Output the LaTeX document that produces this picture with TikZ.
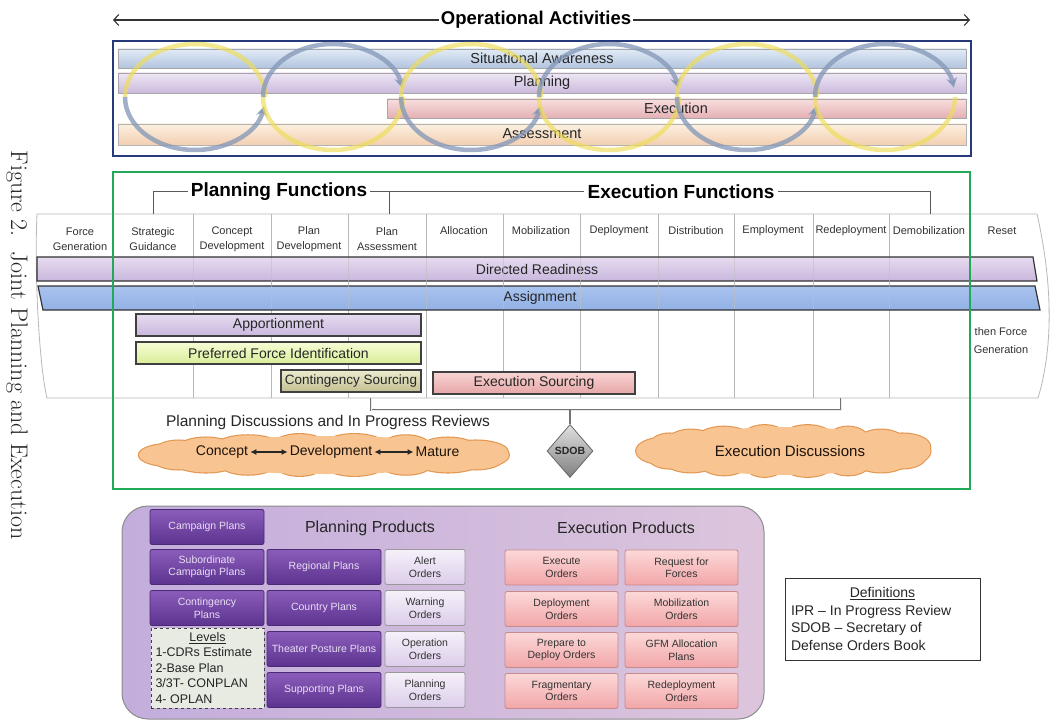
\documentclass[tikz,border=0pt]{standalone}
\usepackage{fontspec}
\setsansfont{Liberation Sans}
\renewcommand{\familydefault}{\sfdefault}
\usetikzlibrary{arrows.meta,shapes.geometric,calc}
\definecolor{navyc}{HTML}{26397A}
\definecolor{greenc}{HTML}{21A95A}
\definecolor{ringyel}{HTML}{EEDD55}
\definecolor{ringgray}{HTML}{8296B6}
\definecolor{saT}{HTML}{E2EBF7}\definecolor{saB}{HTML}{B2C4DE}
\definecolor{plT}{HTML}{EEE6F4}\definecolor{plB}{HTML}{CBBBDD}
\definecolor{exT}{HTML}{F8DEDE}\definecolor{exB}{HTML}{E4B0B4}
\definecolor{asT}{HTML}{FCF0E0}\definecolor{asB}{HTML}{F2CFB2}
\definecolor{drT}{HTML}{E6DCF0}\definecolor{drB}{HTML}{C9B7DD}
\definecolor{agT}{HTML}{A9C3EE}\definecolor{agM}{HTML}{D6E5FA}\definecolor{agB}{HTML}{93B1E6}
\definecolor{pfT}{HTML}{F6FCD6}\definecolor{pfB}{HTML}{D8EE98}
\definecolor{csT}{HTML}{ECECCF}\definecolor{csB}{HTML}{C3BF92}
\definecolor{esT}{HTML}{F9D4D4}\definecolor{esB}{HTML}{E6A6A6}
\definecolor{cloudF}{HTML}{F7C492}\definecolor{cloudD}{HTML}{E2964F}
\definecolor{panL}{HTML}{C3ADDC}\definecolor{panR}{HTML}{DCC5DC}
\definecolor{ppT}{HTML}{8B5DBA}\definecolor{ppB}{HTML}{5C3390}\definecolor{ppD}{HTML}{4A2A72}
\definecolor{ppText}{HTML}{E8DEF4}
\definecolor{ordT}{HTML}{F6F0FA}\definecolor{ordB}{HTML}{DCCDEA}
\definecolor{pkT}{HTML}{FCD8D8}\definecolor{pkB}{HTML}{F2A6A8}\definecolor{pkD}{HTML}{C98A8C}
\definecolor{lvF}{HTML}{E7EBE2}
% cloud: center x, center y, path half-width, path half-height, puff rx, puff ry
\newcommand{\mycloud}[6]{%
  \foreach \k in {0,...,17} {
    \pgfmathsetmacro{\px}{#1+#3*cos(\k*20)}
    \pgfmathsetmacro{\py}{#2+#4*sin(\k*20)}
    \pgfmathsetmacro{\prx}{#5*(0.85+0.3*mod(\k*7,5)/4)}
    \draw[draw=cloudD, line width=2.2pt, fill=cloudF] (\px,\py) ellipse [x radius=\prx, y radius=#6];
  }
  \foreach \k in {0,...,17} {
    \pgfmathsetmacro{\px}{#1+#3*cos(\k*20)}
    \pgfmathsetmacro{\py}{#2+#4*sin(\k*20)}
    \pgfmathsetmacro{\prx}{#5*(0.85+0.3*mod(\k*7,5)/4)}
    \fill[cloudF] (\px,\py) ellipse [x radius=\prx, y radius=#6];
  }
  \fill[cloudF] (#1,#2) ellipse [x radius=#3, y radius=#4+#6-2];
}
\begin{document}
\begin{tikzpicture}[x=1pt,y=-1pt,
  tbl/.style={draw=black!28, line width=0.8pt},
  hdr/.style={font=\fontsize{11}{15}\selectfont, text=black!80, align=center, inner sep=0pt},
  bartxt/.style={font=\fontsize{14.5}{16}\selectfont, text=black!85, inner sep=0pt},
  ringY/.style={draw=ringyel, line width=4.5pt, opacity=0.65},
  ringG/.style={draw=ringgray, line width=4.5pt, opacity=0.75},
  ringArrow/.style={-{Stealth[length=10pt,width=11pt]}},
  fnlabel/.style={font=\bfseries\fontsize{19}{21}\selectfont, inner sep=3pt},
  brk/.style={draw=black!65, line width=1pt},
  subbar/.style={draw=black!75, line width=1.2pt, font=\fontsize{14}{16}\selectfont, text=black!85, inner sep=0pt, minimum height=22pt},
  cloudtxt/.style={font=\fontsize{14}{16}\selectfont, text=black!85!brown, inner sep=2pt},
  pbox/.style={draw=ppD, line width=0.8pt, top color=ppT, bottom color=ppB, text=ppText, minimum width=114pt, minimum height=35pt, inner sep=1pt, align=center, font=\fontsize{10.5}{12.5}\selectfont, rounded corners=2pt},
  obox/.style={draw=black!40, line width=0.8pt, top color=ordT, bottom color=ordB, text=black!80, minimum width=80pt, minimum height=35pt, inner sep=1pt, align=center, font=\fontsize{10.5}{12.5}\selectfont, rounded corners=2pt},
  kbox/.style={draw=pkD, line width=0.8pt, top color=pkT, bottom color=pkB, text=black!80, minimum width=113pt, minimum height=35pt, inner sep=1pt, align=center, font=\fontsize{10.5}{12.5}\selectfont, rounded corners=2pt},
  ptitle/.style={font=\fontsize{16}{18}\selectfont, text=black!85, inner sep=0pt}
]
\useasboundingbox (0,0) rectangle (1062,727);
\fill[white] (0,0) rectangle (1062,727);

% caption
\node[rotate=-90, font=\rmfamily\fontsize{24}{28}\selectfont, text=black!85] (caption) at (17,345) {Figure 2.\ \ Joint Planning and Execution};

% ---------- Operational activities ----------
\node[font=\bfseries\fontsize{18.5}{20}\selectfont, inner sep=2pt] (oa) at (536,20) {Operational Activities};
\coordinate (oaL) at (113,20);
\coordinate (oaR) at (970,20);
\draw[line width=1.1pt, black!80, -{Straight Barb[length=5pt,width=11pt]}] (oa.west) -- (oaL);
\draw[line width=1.1pt, black!80, -{Straight Barb[length=5pt,width=11pt]}] (oa.east) -- (oaR);

\draw[line width=2.5pt, draw=navyc, fill=white] (113,41) rectangle (971,156);
\draw[draw=black!35, top color=saT, bottom color=saB] (118,49) rectangle (966,68);
\draw[draw=black!35, top color=plT, bottom color=plB] (118,73) rectangle (966,93);
\draw[draw=black!35, top color=exT, bottom color=exB] (387,99) rectangle (966,118);
\draw[draw=black!30, top color=asT, bottom color=asB] (118,124) rectangle (966,145);
\node[bartxt] (sa) at (542,58) {Situational Awareness};
\node[bartxt] (pl) at (542,83) {Planning};
\node[bartxt] (ex) at (676,108) {Execution};
\node[bartxt] (as) at (542,134) {Assessment};

\foreach \cx [count=\i] in {195,333,471,609,747,885} {
  \ifodd\i
    \draw[ringY] (\cx-70,97) arc[start angle=180, end angle=360, x radius=70, y radius=53];
    \draw[ringG, ringArrow] (\cx-70,97) arc[start angle=180, end angle=10, x radius=70, y radius=53];
  \else
    \draw[ringY] (\cx-70,97) arc[start angle=180, end angle=0, x radius=70, y radius=53];
    \draw[ringG, ringArrow] (\cx-70,97) arc[start angle=180, end angle=350, x radius=70, y radius=53];
  \fi
}

% ---------- Functions table ----------
\draw[tbl] (37,214) -- (1037,214) .. controls (1052,280) and (1054,345) .. (1038,398) -- (47,398) .. controls (40,370) and (34,280) .. (37,214);
\foreach \x in {113,193,271,348,426,503,580,658,734,813,889,969}
  \draw[tbl] (\x,214) -- (\x,398);

\node[hdr] (hFG) at (80,239) {Force\\Generation};
\node[hdr] (hSG) at (153,239) {Strategic\\Guidance};
\node[hdr] (hCD) at (232,239) {Concept\\Development};
\node[hdr] (hPD) at (309,239) {Plan\\Development};
\node[hdr] (hPA) at (387,239) {Plan\\Assessment};
\node[hdr] (hAL) at (464,231) {Allocation};
\node[hdr] (hMO) at (541,231) {Mobilization};
\node[hdr] (hDE) at (619,231) {Deployment};
\node[hdr] (hDI) at (696,231) {Distribution};
\node[hdr] (hEM) at (773,231) {Employment};
\node[hdr] (hRD) at (851,231) {Redeployment};
\node[hdr] (hDM) at (929,231) {Demobilization};
\node[hdr] (hRS) at (1002,231) {Reset};

\draw[draw=black!80, line width=1.2pt, top color=drT, bottom color=drB] (37,257) -- (1033,257) -- (1037,281) -- (37,281) -- cycle;
\node[bartxt, font=\fontsize{14}{16}\selectfont] (dr) at (537,269) {Directed Readiness};
\draw[draw=black!80, line width=1.2pt, top color=agT, middle color=agM, bottom color=agB] (38,286) -- (1035,286) -- (1040,310) -- (43,310) -- cycle;
\node[bartxt, font=\fontsize{14}{16}\selectfont] (ag) at (540,298) {Assignment};
\foreach \x in {113,193,271,348,426,503,580,658,734,813,889,969}
  \draw[draw=black!25, line width=0.6pt, opacity=0.6] (\x,258) -- (\x,309);

\node[subbar, top color=drT, bottom color=drB, minimum width=285pt] (app) at (278.5,325) {Apportionment};
\node[subbar, top color=pfT, bottom color=pfB, minimum width=285pt] (pfi) at (278.5,353) {Preferred Force Identification};
\node[subbar, top color=csT, bottom color=csB, minimum width=140pt, font=\fontsize{13.5}{16}\selectfont] (cs) at (351,381) {Contingency Sourcing};
\node[subbar, top color=esT, bottom color=esB, minimum width=202pt] (es) at (534,383) {Execution Sourcing};

\node[hdr, font=\fontsize{11}{18}\selectfont] (tfg) at (1001,341) {then Force\\Generation};

% green frame
\draw[line width=2.5pt, greenc] (113,172) rectangle (970,489);

% function labels
\node[fnlabel] (pf) at (279,192) {Planning Functions};
\node[fnlabel] (ef) at (681,192) {Execution Functions};
\coordinate (pfL) at (153,214);
\coordinate (pfR) at (389,214);
\coordinate (efR) at (930,214);
\draw[brk] (pfL) |- (pf.west);
\draw[brk] (pf.east) -| (pfR);
\draw[brk] (pfR |- pf.east) -- (ef.west);
\draw[brk] (ef.east) -| (efR);

% bracket below table and SDOB
\coordinate (bL) at (371,398);
\coordinate (bR) at (841,398);
\draw[draw=black!55, line width=2.2pt] (bL) -- (371,410) -- (841,410) -- (bR);
\draw[draw=black!8, line width=0.8pt] (bL) -- (371,410) -- (841,410) -- (bR);
\node[diamond, draw=black!60, line width=0.8pt, top color=black!12, bottom color=black!50, minimum width=46pt, minimum height=53pt, inner sep=0pt, font=\bfseries\fontsize{10.5}{12}\selectfont, text=black!85] (sdob) at (570,451) {SDOB};
\draw[draw=black!55, line width=2.2pt] (570,410) -- (sdob.north);

% discussions
\node[font=\fontsize{15.5}{17}\selectfont, text=black!85, inner sep=0pt] (pdt) at (328,422) {Planning Discussions and In Progress Reviews};
\mycloud{327}{455}{158}{10}{28}{11}
\node[cloudtxt] (cc) at (222,452) {Concept};
\node[cloudtxt] (cdv) at (331,452) {Development};
\node[cloudtxt] (cm) at (437.5,452) {Mature};
\draw[line width=1.3pt, black!85, {Latex[length=6pt,width=6pt]}-{Latex[length=6pt,width=6pt]}] (cc) -- (cdv);
\draw[line width=1.3pt, black!85, {Latex[length=6pt,width=6pt]}-{Latex[length=6pt,width=6pt]}] (cdv) -- (cm);
\mycloud{786}{451}{124}{13}{24}{13}
\node[cloudtxt, font=\fontsize{15}{17}\selectfont] (ed) at (790,451) {Execution Discussions};

% ---------- Products panel ----------
\draw[draw=black!45, line width=1pt, rounded corners=26pt, left color=panL, right color=panR] (122,506) rectangle (764,719);
\node[ptitle] (ppt) at (370,528) {Planning Products};
\node[ptitle] (ept) at (626,528) {Execution Products};

\node[pbox] (camp) at (207,527) {Campaign Plans};
\node[pbox] (subc) at (207,567) {Subordinate\\Campaign Plans};
\node[pbox] (cont) at (207,608) {Contingency\\Plans};
\node[draw=black!75, dashed, line width=1pt, fill=lvF, minimum width=113pt, minimum height=80pt, inner sep=3pt, font=\fontsize{12.5}{15.5}\selectfont, text=black!85] (lv) at (207.5,668) {\parbox{104pt}{\centering\underline{Levels}\par\raggedright 1-CDRs Estimate\\2-Base Plan\\3/3T- CONPLAN\\4- OPLAN}};

\node[pbox] (reg) at (324,567) {Regional Plans};
\node[pbox] (cou) at (324,608) {Country Plans};
\node[pbox] (tpp) at (324,649) {Theater Posture Plans};
\node[pbox] (sup) at (324,690) {Supporting Plans};

\node[obox] (alo) at (425,567) {Alert\\Orders};
\node[obox] (wao) at (425,608) {Warning\\Orders};
\node[obox] (opo) at (425,649) {Operation\\Orders};
\node[obox] (plo) at (425,690) {Planning\\Orders};

\node[kbox] (exo) at (561.5,567.5) {Execute\\Orders};
\node[kbox] (dpo) at (561.5,609) {Deployment\\Orders};
\node[kbox] (ptd) at (561.5,650) {Prepare to\\Deploy Orders};
\node[kbox] (fro) at (561.5,691) {Fragmentary\\Orders};
\node[kbox] (rff) at (681.5,567.5) {Request for\\Forces};
\node[kbox] (mbo) at (681.5,609) {Mobilization\\Orders};
\node[kbox] (gfm) at (681.5,650) {GFM Allocation\\Plans};
\node[kbox] (rdo) at (681.5,691) {Redeployment\\Orders};

% definitions
\node[draw=black!80, line width=1pt, fill=white, minimum width=195pt, minimum height=82pt, inner sep=3pt, font=\fontsize{14}{17.5}\selectfont, text=black!85] (defs) at (882.5,619) {\parbox{183pt}{\centering\underline{Definitions}\par\raggedright IPR – In Progress Review\\SDOB – Secretary of\\Defense Orders Book}};
\end{tikzpicture}
\end{document}
